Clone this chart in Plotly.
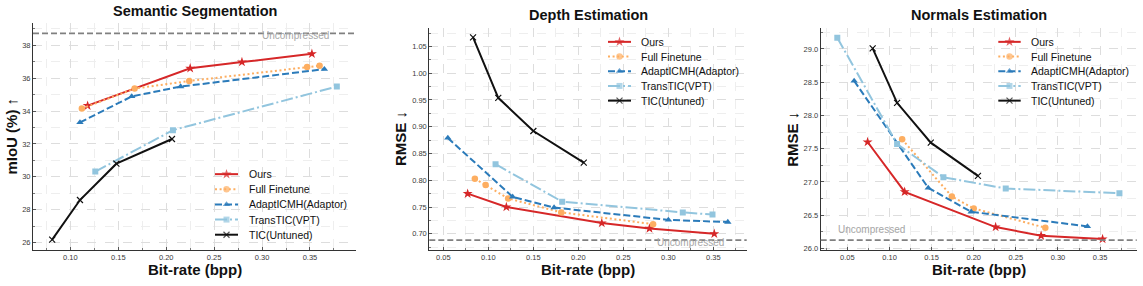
import plotly.graph_objects as go

# ---------------- data ----------------
series_names = ["Ours", "Full Finetune", "AdaptICMH(Adaptor)", "TransTIC(VPT)", "TIC(Untuned)"]

# Semantic segmentation (mIoU %)
seg_ours_x = [0.118, 0.225, 0.279, 0.352]
seg_ours_y = [34.33, 36.60, 36.98, 37.48]
seg_ft_x = [0.112, 0.167, 0.224, 0.347, 0.360]
seg_ft_y = [34.15, 35.37, 35.83, 36.68, 36.76]
seg_ad_x = [0.110, 0.164, 0.215, 0.365]
seg_ad_y = [33.31, 34.89, 35.49, 36.55]
seg_tt_x = [0.126, 0.207, 0.378]
seg_tt_y = [30.32, 32.84, 35.49]
seg_tic_x = [0.081, 0.110, 0.148, 0.206]
seg_tic_y = [26.18, 28.59, 30.80, 32.30]
seg_uncompressed = 38.72

# Depth estimation (RMSE)
dep_ours_x = [0.077, 0.120, 0.226, 0.279, 0.351]
dep_ours_y = [0.775, 0.750, 0.720, 0.710, 0.700]
dep_ft_x = [0.085, 0.097, 0.122, 0.181, 0.283]
dep_ft_y = [0.803, 0.791, 0.766, 0.740, 0.718]
dep_ad_x = [0.055, 0.127, 0.173, 0.300, 0.366]
dep_ad_y = [0.879, 0.769, 0.749, 0.726, 0.722]
dep_tt_x = [0.108, 0.182, 0.316, 0.349]
dep_tt_y = [0.830, 0.760, 0.740, 0.736]
dep_tic_x = [0.083, 0.111, 0.150, 0.206]
dep_tic_y = [1.067, 0.954, 0.892, 0.833]
dep_uncompressed = 0.688

# Normals estimation (RMSE)
nor_ours_x = [0.074, 0.118, 0.226, 0.280, 0.353]
nor_ours_y = [27.60, 26.85, 26.32, 26.19, 26.14]
nor_ft_x = [0.115, 0.174, 0.200, 0.285]
nor_ft_y = [27.64, 26.78, 26.60, 26.31]
nor_ad_x = [0.058, 0.146, 0.197, 0.335]
nor_ad_y = [28.52, 26.91, 26.55, 26.33]
nor_tt_x = [0.038, 0.109, 0.164, 0.238, 0.373]
nor_tt_y = [29.17, 27.57, 27.07, 26.90, 26.83]
nor_tic_x = [0.080, 0.109, 0.149, 0.205]
nor_tic_y = [29.01, 28.19, 27.59, 27.09]
nor_uncompressed = 26.124

titles = ["Semantic Segmentation", "Depth Estimation", "Normals Estimation"]
y_titles = ["<b>mIoU (%)</b> \u2191", "<b>RMSE</b> \u2193", "<b>RMSE</b> \u2193"]
x_title = "<b>Bit-rate (bpp)</b>"

# ---------------- styles ----------------
W, H = 1143, 286
colors = ["#d62728", "#fdae61", "#2b7bba", "#92c5de", "#111111"]
dashes = ["solid", "2px,2.6px", "7px,3px", "12px,3px,2px,3px", "solid"]
symbols = ["star", "circle", "triangle-up", "square", "x-thin"]
msizes = [7.5, 6.5, 6.5, 6, 6]
FONT = "Liberation Sans, Arial, sans-serif"

panels = [
    dict(data=[(seg_ours_x, seg_ours_y), (seg_ft_x, seg_ft_y), (seg_ad_x, seg_ad_y),
               (seg_tt_x, seg_tt_y), (seg_tic_x, seg_tic_y)],
         unc=seg_uncompressed, xr=[0.061, 0.398], yr=[25.56, 39.34], ydt=2, ymin=1, yfmt="d",
         px=(33, 356), py=(23.5, 252.5)),
    dict(data=[(dep_ours_x, dep_ours_y), (dep_ft_x, dep_ft_y), (dep_ad_x, dep_ad_y),
               (dep_tt_x, dep_tt_y), (dep_tic_x, dep_tic_y)],
         unc=dep_uncompressed, xr=[0.0344, 0.387], yr=[0.670, 1.085], ydt=0.05, ymin=0.025,
         yfmt=".2f", px=(429.3, 746.7), py=(28, 252.5)),
    dict(data=[(nor_ours_x, nor_ours_y), (nor_ft_x, nor_ft_y), (nor_ad_x, nor_ad_y),
               (nor_tt_x, nor_tt_y), (nor_tic_x, nor_tic_y)],
         unc=nor_uncompressed, xr=[0.0183, 0.3935], yr=[25.97, 29.32], ydt=0.5, ymin=0.25,
         yfmt=".1f", px=(820.7, 1136.7), py=(28, 253)),
]

# legend layout: (line x0, line x1, text x, first row y, row step) in pixels
legend_pos = [(215, 238, 246.5, 176, 15.3), (608, 631, 639, 42.3, 14.85),
              (998.3, 1020.7, 1029, 42.3, 14.85)]

fig = go.Figure()
annotations = []
shapes = []
layout = {}

for i, p in enumerate(panels):
    n = "" if i == 0 else str(i + 1)
    xa, ya = "x" + n, "y" + n
    for k, (xs, ys) in enumerate(p["data"]):
        fig.add_trace(go.Scatter(
            x=xs, y=ys, mode="lines+markers", name=series_names[k],
            xaxis=xa, yaxis=ya, showlegend=False,
            line=dict(color=colors[k], width=2, dash=dashes[k]),
            marker=dict(symbol=symbols[k], size=msizes[k], color=colors[k],
                        line=dict(color=colors[k], width=1.2 if k == 4 else 0)),
        ))
    x0, x1 = p["px"][0] / W, p["px"][1] / W
    y0, y1 = 1 - p["py"][1] / H, 1 - p["py"][0] / H
    common = dict(showline=True, linecolor="#333333", linewidth=1, mirror=False,
                  ticks="inside", ticklen=3, tickcolor="#555555",
                  tickfont=dict(size=7.5, color="#3a3a3a", family=FONT),
                  showgrid=True, gridcolor="#dddddd", griddash="dash", gridwidth=1,
                  zeroline=False, fixedrange=True)
    layout["xaxis" + n] = dict(domain=[x0, x1], range=p["xr"], anchor=ya, dtick=0.05,
                               tick0=0, tickformat=".2f",
                               minor=dict(dtick=0.025, showgrid=True, gridcolor="#eeeeee",
                                          griddash="dash", ticks="inside", ticklen=2,
                                          tickcolor="#777777"),
                               **common)
    layout["yaxis" + n] = dict(domain=[y0, y1], range=p["yr"], anchor=xa, dtick=p["ydt"],
                               tick0=0, tickformat=p["yfmt"],
                               minor=dict(dtick=p["ymin"], showgrid=True, gridcolor="#eeeeee",
                                          griddash="dash", ticks="inside", ticklen=2,
                                          tickcolor="#777777"),
                               **common)
    # uncompressed reference line
    shapes.append(dict(type="line", xref=xa + " domain", yref=ya, x0=0, x1=1,
                       y0=p["unc"], y1=p["unc"],
                       line=dict(color="#808080", width=1.8, dash="6px,3px")))
    # titles
    annotations.append(dict(text="<b>" + titles[i] + "</b>", xref="paper", yref="paper",
                            x=(x0 + x1) / 2, y=1 - (p["py"][0] - 12.5) / H,
                            xanchor="center", yanchor="middle", showarrow=False,
                            font=dict(size=14.5, family=FONT, color="#111111")))
    annotations.append(dict(text=x_title, xref="paper", yref="paper",
                            x=(x0 + x1) / 2, y=1 - 272.5 / H, xanchor="center",
                            yanchor="middle", showarrow=False,
                            font=dict(size=15, family=FONT, color="#111111")))
    ytx = (12 if i == 0 else p["px"][0] - 29) / W
    annotations.append(dict(text=y_titles[i], xref="paper", yref="paper",
                            x=ytx, y=(y0 + y1) / 2, xanchor="center", yanchor="middle",
                            textangle=-90, showarrow=False,
                            font=dict(size=15, family=FONT, color="#111111")))

    # custom compact legend (drawn on a hidden pixel-space overlay axis)
    lx0, lx1, tx, ry, step = legend_pos[i]
    for k in range(len(series_names)):
        yy = ry + k * step
        fig.add_trace(go.Scatter(
            x=[lx0, (lx0 + lx1) / 2, lx1], y=[yy, yy, yy], mode="lines+markers",
            xaxis="x4", yaxis="y4", showlegend=False, hoverinfo="skip",
            line=dict(color=colors[k], width=2, dash=dashes[k]),
            marker=dict(symbol=symbols[k], size=[0, msizes[k], 0], color=colors[k],
                        line=dict(color=colors[k], width=1.2 if k == 4 else 0)),
        ))
        annotations.append(dict(text=series_names[k], xref="paper", yref="paper",
                                x=tx / W, y=1 - yy / H, xanchor="left", yanchor="middle",
                                showarrow=False,
                                font=dict(size=10.5, family=FONT, color="#111111")))

layout["xaxis4"] = dict(domain=[0, 1], range=[0, W], visible=False, anchor="y4",
                        fixedrange=True, showgrid=False, zeroline=False)
layout["yaxis4"] = dict(domain=[0, 1], range=[H, 0], visible=False, anchor="x4",
                        fixedrange=True, showgrid=False, zeroline=False)

# "Uncompressed" labels
unc_labels = [
    dict(xref="x", yref="paper", x=0.3715, y=1 - 36 / H, xanchor="right"),
    dict(xref="x2", yref="paper", x=0.3635, y=1 - 245 / H, xanchor="right"),
    dict(xref="x3", yref="paper", x=0.0365, y=1 - 232 / H, xanchor="left"),
]
for u in unc_labels:
    annotations.append(dict(text="Uncompressed", showarrow=False, yanchor="middle",
                            font=dict(size=10, family=FONT, color="#a6a6a6"), **u))

fig.update_layout(
    width=W, height=H,
    margin=dict(l=0, r=0, t=0, b=0),
    paper_bgcolor="white", plot_bgcolor="rgba(0,0,0,0)",
    showlegend=False,
    annotations=annotations, shapes=shapes,
    font=dict(family=FONT),
    **layout,
)

fig.write_html("out.html", post_script="document.body.style.margin='0';",
               config={"displayModeBar": False})
